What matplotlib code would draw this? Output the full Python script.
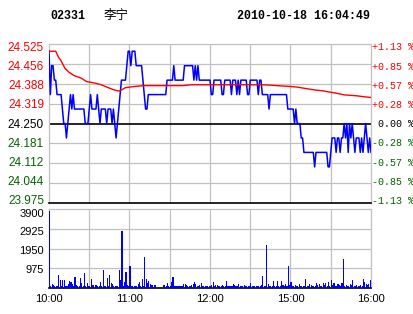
import numpy as np
import matplotlib.pyplot as plt
from matplotlib.transforms import ScaledTranslation

# 02331 Li Ning, intraday 2010-10-18, one value per trading minute
prev_close = 24.25

price = [
    24.50, 24.35, 24.45, 24.45, 24.40, 24.40, 24.35, 24.35, 24.35, 24.35,
    24.30, 24.25, 24.25, 24.20, 24.25, 24.30, 24.35, 24.30, 24.35, 24.30,
    24.30, 24.30, 24.30, 24.30, 24.30, 24.30, 24.30, 24.25, 24.25, 24.25,
    24.30, 24.35, 24.30, 24.30, 24.30, 24.30, 24.35, 24.30, 24.25, 24.30,
    24.30, 24.30, 24.30, 24.25, 24.30, 24.30, 24.30, 24.25, 24.30, 24.25,
    24.20, 24.25, 24.30, 24.35, 24.40, 24.40, 24.40, 24.40, 24.45, 24.50,
    24.50, 24.45, 24.50, 24.50, 24.50, 24.45, 24.45, 24.45, 24.45, 24.45,
    24.40, 24.35, 24.30, 24.30, 24.35, 24.35, 24.35, 24.35, 24.35, 24.35,
    24.35, 24.35, 24.35, 24.35, 24.35, 24.35, 24.35, 24.35, 24.40, 24.40,
    24.40, 24.40, 24.40, 24.45, 24.40, 24.40, 24.40, 24.40, 24.40, 24.40,
    24.40, 24.45, 24.45, 24.45, 24.45, 24.45, 24.45, 24.45, 24.40, 24.45,
    24.40, 24.45, 24.40, 24.40, 24.40, 24.40, 24.40, 24.40, 24.40, 24.40,
    24.40, 24.35, 24.35, 24.40, 24.40, 24.40, 24.40, 24.40, 24.40, 24.35,
    24.35, 24.40, 24.40, 24.40, 24.40, 24.40, 24.35, 24.40, 24.40, 24.40,
    24.35, 24.40, 24.35, 24.40, 24.40, 24.40, 24.40, 24.40, 24.35, 24.35,
    24.40, 24.40, 24.40, 24.40, 24.40, 24.40, 24.35, 24.40, 24.40, 24.35,
    24.35, 24.35, 24.35, 24.35, 24.30, 24.35, 24.35, 24.35, 24.35, 24.35,
    24.35, 24.35, 24.35, 24.35, 24.35, 24.35, 24.35, 24.35, 24.30, 24.30,
    24.30, 24.30, 24.30, 24.25, 24.30, 24.25, 24.25, 24.25, 24.20, 24.20,
    24.15, 24.15, 24.15, 24.15, 24.15, 24.15, 24.15, 24.15, 24.10, 24.15,
    24.15, 24.15, 24.15, 24.15, 24.15, 24.15, 24.15, 24.15, 24.10, 24.10,
    24.15, 24.20, 24.20, 24.20, 24.15, 24.20, 24.20, 24.15, 24.20, 24.20,
    24.25, 24.20, 24.25, 24.15, 24.25, 24.20, 24.25, 24.20, 24.15, 24.20,
    24.20, 24.20, 24.15, 24.20, 24.15, 24.20, 24.25, 24.20, 24.15, 24.20,
    24.15,
]

# average price line, read at a few points
avg_min = [0, 5, 7, 9, 12, 15, 19, 24, 28, 34, 39, 43, 48, 52, 54, 57, 62, 70,
           100, 106, 160, 170, 180, 185, 190, 198, 204, 210, 214, 220, 229, 234, 240]
avg_val = [24.500, 24.500, 24.480, 24.467, 24.440, 24.427, 24.415, 24.407, 24.395,
           24.390, 24.384, 24.376, 24.367, 24.362, 24.366, 24.374, 24.377, 24.381,
           24.381, 24.384, 24.384, 24.381, 24.378, 24.376, 24.372, 24.366, 24.363,
           24.358, 24.355, 24.349, 24.346, 24.343, 24.340]

volume = [
    3820, 120, 180, 150, 100, 100, 90, 660, 410, 120,
    410, 410, 115, 90, 210, 360, 280, 200, 100, 560,
    165, 115, 90, 480, 250, 100, 760, 115, 247, 115,
    80, 460, 165, 165, 165, 165, 90, 115, 300, 115,
    905, 115, 90, 490, 100, 660, 250, 214, 100, 115,
    115, 90, 905, 410, 2830, 115, 300, 800, 165, 115,
    1100, 115, 115, 115, 90, 115, 214, 300, 100, 460,
    115, 1550, 460, 247, 360, 200, 165, 165, 165, 165,
    0, 0, 0, 0, 0, 165, 165, 115, 247, 115,
    100, 296, 560, 115, 100, 115, 115, 90, 115, 100,
    214, 214, 165, 100, 115, 90, 165, 214, 296, 214,
    100, 115, 165, 247, 90, 115, 115, 115, 100, 115,
    90, 165, 296, 100, 165, 165, 115, 100, 90, 165,
    100, 115, 350, 100, 115, 115, 90, 214, 165, 115,
    100, 214, 115, 115, 115, 165, 115, 115, 115, 90,
    247, 115, 100, 115, 90, 115, 100, 90, 165, 610,
    115, 100, 2120, 198, 115, 115, 115, 350, 115, 100,
    350, 115, 90, 350, 165, 100, 214, 100, 1100, 165,
    296, 115, 90, 165, 100, 115, 214, 115, 115, 115,
    90, 460, 115, 100, 214, 165, 115, 115, 90, 247,
    165, 214, 115, 100, 247, 165, 247, 100, 296, 115,
    380, 165, 247, 100, 115, 214, 165, 100, 247, 1450,
    115, 165, 115, 100, 214, 165, 400, 115, 100, 165,
    115, 115, 165, 100, 460, 296, 214, 165, 214, 410,
    247,
]

price_ticks = [24.525, 24.456, 24.388, 24.319, 24.250, 24.181, 24.112, 24.044, 23.975]
pct_labels = ["+1.13 %", "+0.85 %", "+0.57 %", "+0.28 %", " 0.00 %",
              "-0.28 %", "-0.57 %", "-0.85 %", "-1.13 %"]
vol_ticks = [975, 1950, 2925, 3900]
time_pos = [0, 60, 120, 180, 240]
time_labels = ["10:00", "11:00", "12:00", "15:00", "16:00"]

RED = "#ff0000"
GREEN = "#006400"
GRID = "#c0c0c0"
BLUE = "#0000ff"

minutes = np.arange(len(price))

W, H = 414, 314
fig = plt.figure(figsize=(W / 100, H / 100), dpi=100)
ax = fig.add_axes([49 / W, 1 - 203 / H, 322 / W, 159 / H])
axv = fig.add_axes([49 / W, 1 - 288 / H, 322 / W, 79 / H])


def shift(trans, dx_px, dy_px):
    # move a text by some pixels (y down positive)
    return trans + ScaledTranslation(dx_px / 100, -dy_px / 100, fig.dpi_scale_trans)


def colour(i):
    return RED if i < 4 else ("black" if i == 4 else GREEN)


# ---- price panel
ax.set_xlim(0, 240)
ax.set_ylim(23.975, 24.525)
ax.set_xticks([])
ax.set_yticks([])
for p in price_ticks[1:-1]:
    if p == 24.250:
        continue
    ax.axhline(p, color=GRID, lw=0.9, zorder=1)
for m in range(30, 240, 30):
    ax.axvline(m, color=GRID, lw=0.9, zorder=1)
ax.axhline(prev_close, color="black", lw=1.2, zorder=2)
ax.plot(minutes, price, color=BLUE, lw=1.1, zorder=3)
ax.plot(avg_min, avg_val, color=RED, lw=1.0, zorder=4)

ytr = ax.get_yaxis_transform()
for i, p in enumerate(price_ticks):
    dy = 2.5 - 0.69 * i
    ax.text(0, p, f"{p:.3f}", transform=shift(ytr, -5, dy), ha="right",
            va="center_baseline", fontfamily="Liberation Sans", fontsize=8.5,
            color=colour(i))
    ax.text(1, p, pct_labels[i], transform=shift(ytr, 1, dy), ha="left",
            va="center_baseline", fontfamily="Liberation Mono", fontsize=7.2,
            color=colour(i))

for s in ["top", "left", "right"]:
    ax.spines[s].set_color(GRID)
    ax.spines[s].set_linewidth(0.9)
ax.spines["bottom"].set_color("black")
ax.spines["bottom"].set_linewidth(1.2)

# ---- volume panel
axv.set_xlim(0, 240)
axv.set_ylim(0, 3900)
for v in vol_ticks[:-1]:
    axv.axhline(v, color=GRID, lw=0.9, zorder=1)
for m in range(30, 240, 30):
    axv.axvline(m, color=GRID, lw=0.9, zorder=1)
axv.bar(minutes, volume, width=0.8, align="edge", color=BLUE, linewidth=0,
        antialiased=False, zorder=3)
axv.set_yticks([])
axv.set_xticks(time_pos)
axv.set_xticklabels(time_labels, fontfamily="Liberation Sans", fontsize=8)
axv.tick_params(length=0)
axv.tick_params(axis="x", pad=4)

vtr = axv.get_yaxis_transform()
for v, dy in zip(vol_ticks, [0.8, 1.7, 2.5, 4.0]):
    axv.text(0, v, str(v), transform=shift(vtr, -5, dy), ha="right",
             va="center_baseline", fontfamily="Liberation Sans", fontsize=8)

for s in ["top", "left", "right"]:
    axv.spines[s].set_color(GRID)
    axv.spines[s].set_linewidth(0.9)
axv.spines["bottom"].set_color("black")
axv.spines["bottom"].set_linewidth(1.2)

# ---- header
fig.text(50 / W, 1 - 16 / H, "02331", fontfamily="Liberation Mono",
         fontweight="bold", fontsize=8.4, va="center")
fig.text(104 / W, 1 - 16 / H, "李宁", fontfamily=["Noto Sans CJK SC", "DejaVu Sans"],
         fontsize=9, va="center")
fig.text(370 / W, 1 - 16 / H, "2010-10-18 16:04:49", fontfamily="Liberation Mono",
         fontweight="bold", fontsize=8.4, va="center", ha="right")

fig.savefig("out.png", dpi=100, facecolor="white")
